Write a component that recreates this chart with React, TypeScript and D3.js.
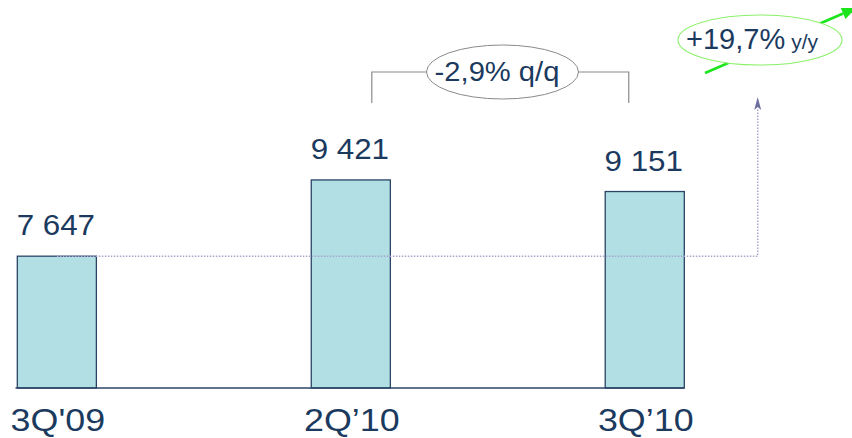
import React from "react";
import * as d3 from "d3";

// Quarterly values
const categories = ["3Q'09", "2Q\u201910", "3Q\u201910"];
const values = [7647, 9421, 9151];
const valueLabels = ["7 647", "9 421", "9 151"];
const qqLabel = "-2,9% q/q";
const yyLabel = "+19,7%";
const yyUnit = "y/y";

const W = 852;
const H = 438;
const NAVY = "#1b3a5e";
const FONT = "'Liberation Sans', Arial, Helvetica, sans-serif";

export default function App() {
  const x = d3
    .scaleBand<string>()
    .domain(categories)
    .range([17.3, 684.3])
    .paddingInner(0.731)
    .paddingOuter(0);
  const y = d3.scaleLinear().domain([4580, 9580]).range([388, 173.1]);

  const bw = x.bandwidth();
  const cx = (c: string) => (x(c) as number) + bw / 2;
  const baseY = y(4580);

  // reference line from the first quarter's level
  const refY = y(values[0]);
  const refX = 757.7;
  const arrowTipY = 97;

  // bracket between second and third quarter
  const brL = cx(categories[1]) + 21;
  const brR = cx(categories[2]) - 16;
  const brTop = 72;
  const brBottom = 103;

  // growth arrow
  const gx1 = 705, gy1 = 73, gx2 = 856, gy2 = 8;
  const ang = Math.atan2(gy2 - gy1, gx2 - gx1);
  const headLen = 14, headW = 6;
  const hb = [gx2 - headLen * Math.cos(ang), gy2 - headLen * Math.sin(ang)];
  const head = [
    [gx2, gy2],
    [hb[0] + headW * Math.sin(ang), hb[1] - headW * Math.cos(ang)],
    [hb[0] - headW * Math.sin(ang), hb[1] + headW * Math.cos(ang)],
  ];

  const stretched = (
    text: string,
    px: number,
    py: number,
    size: number,
    sx: number,
    anchor: "start" | "middle" | "end",
    key?: string
  ) => (
    <text
      key={key}
      transform={`translate(${px},${py}) scale(${sx},1)`}
      fontSize={size}
      textAnchor={anchor}
      fill={NAVY}
      fontFamily={FONT}
    >
      {text}
    </text>
  );

  return (
    <svg
      width={W}
      height={H}
      style={{ position: "fixed", left: 0, top: 0, background: "#fff" }}
    >
      <rect width={W} height={H} fill="#fff" />

      {/* bars */}
      {categories.map((c, i) => (
        <rect
          key={c}
          x={x(c)}
          y={y(values[i])}
          width={bw}
          height={baseY - y(values[i])}
          fill="#b1dfe4"
          stroke="#2a4466"
          strokeWidth={1.3}
        />
      ))}

      {/* baseline */}
      <line x1={15.5} x2={684.3} y1={baseY} y2={baseY} stroke="#2a4466" strokeWidth={1.6} />

      {/* dotted reference line */}
      <path
        d={`M${(x(categories[0]) as number) + bw * 0.5},${refY} H${refX} V${arrowTipY + 11}`}
        fill="none"
        stroke="#a6a6cc"
        strokeWidth={1.5}
        strokeDasharray="1.5 1.5"
      />
      <path
        d={`M${refX},${arrowTipY} L${refX + 3.5},${arrowTipY + 13} L${refX},${arrowTipY + 10} L${refX - 3.5},${arrowTipY + 13} Z`}
        fill="#6e6e9e"
      />

      {/* value labels */}
      {categories.map((c, i) =>
        stretched(valueLabels[i], cx(c) - 1, y(values[i]) - 21, 29, 1.08, "middle", "v" + c)
      )}

      {/* category labels */}
      {categories.map((c) => stretched(c, cx(c) + 1, 431, 32, 1.12, "middle", "c" + c))}

      {/* q/q bracket */}
      <path
        d={`M${brL},${brBottom} V${brTop} H${brR} V${brBottom}`}
        fill="none"
        stroke="#8a8a8a"
        strokeWidth={1.2}
      />
      <ellipse cx={502.5} cy={72} rx={76} ry={27} fill="#fff" stroke="#8a8a8a" strokeWidth={1} />
      {stretched(qqLabel, 497, 81, 27, 1.08, "middle")}

      {/* y/y growth arrow */}
      <line x1={gx1} y1={gy1} x2={hb[0]} y2={hb[1]} stroke="#1de51d" strokeWidth={2.6} />
      <polygon points={head.map((p) => p.join(",")).join(" ")} fill="#1de51d" />
      <ellipse cx={760} cy={40} rx={82} ry={25} fill="#fff" stroke="#8cf06a" strokeWidth={1.1} />
      <text x={686} y={49} fontFamily={FONT} fill={NAVY}>
        <tspan fontSize={29}>{yyLabel}</tspan>
        <tspan fontSize={21} dx={6}>{yyUnit}</tspan>
      </text>
    </svg>
  );
}
